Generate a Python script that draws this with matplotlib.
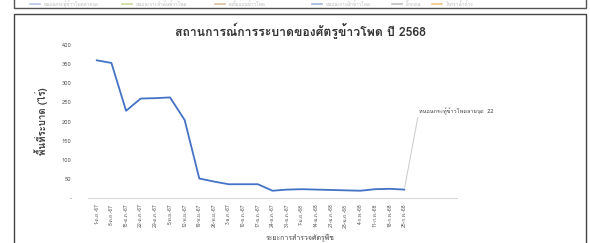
import numpy as np
import matplotlib
matplotlib.use("Agg")
import matplotlib.pyplot as plt
from matplotlib import font_manager as fm
from matplotlib.ft2font import FT2Font
from matplotlib.patches import Rectangle
from matplotlib.lines import Line2D

# find an installed font that has Thai glyphs
thai_font = None
for f in fm.fontManager.ttflist:
    try:
        if 0x0E01 in FT2Font(f.fname).get_charmap():
            thai_font = f.name
            break
    except Exception:
        pass
families = [thai_font, "DejaVu Sans"] if thai_font else ["DejaVu Sans"]
plt.rcParams["font.family"] = families

# data
dates = ["1-ต.ค.-67", "8-ต.ค.-67", "15-ต.ค.-67", "22-ต.ค.-67", "29-ต.ค.-67",
         "5-พ.ย.-67", "12-พ.ย.-67", "19-พ.ย.-67", "26-พ.ย.-67", "3-ธ.ค.-67",
         "10-ธ.ค.-67", "17-ธ.ค.-67", "24-ธ.ค.-67", "31-ธ.ค.-67", "7-ม.ค.-68",
         "14-ม.ค.-68", "21-ม.ค.-68", "28-ม.ค.-68", "4-ก.พ.-68", "11-ก.พ.-68",
         "18-ก.พ.-68", "25-ก.พ.-68"]
area = [360, 353, 228, 260, 261, 263, 204, 51, 43, 36, 36, 36, 19,
        22, 23, 22, 21, 20, 19, 23, 24, 22]
series_name = "หนอนกระทู้ข้าวโพดลายจุด"
yticks = [0, 50, 100, 150, 200, 250, 300, 350, 400]

legend_names = ["หนอนกระทู้ข้าวโพดลายจุด", "หนอนเจาะลำต้นข้าวโพด", "เพลี้ยอ่อนข้าวโพด",
                "หนอนเจาะฝักข้าวโพด", "ตั๊กแตน", "โรคราน้ำค้าง"]
legend_colors = ["#b7c6e6", "#c9d99a", "#d9c0a0", "#9fb6e0", "#c0c0c0", "#f3c48a"]

W, H = 590, 243
fig = plt.figure(figsize=(W / 100, H / 100), dpi=100)

# frames (previous chart cut at top, this chart box)
fig.patches.append(Rectangle((14 / W, 1 - 8 / H), 572 / W, 20 / H, transform=fig.transFigure,
                             fill=False, edgecolor="#555555", linewidth=1.0))
fig.patches.append(Rectangle((14 / W, -0.05), 572 / W, 1 - 14 / H + 0.05, transform=fig.transFigure,
                             fill=False, edgecolor="#444444", linewidth=1.0))

lx = [30, 122, 215, 312, 392, 432]
for x, name, c in zip(lx, legend_names, legend_colors):
    fig.add_artist(Line2D([x / W, (x + 10) / W], [1 - 4 / H, 1 - 4 / H], color=c, linewidth=1.2,
                          transform=fig.transFigure))
    fig.text((x + 14) / W, 1 - 4 / H, name, fontsize=3.4, color="#bbbbbb", va="center", ha="left")

ax = fig.add_axes([88 / W, 1 - 198 / H, (457 - 88) / W, (198 - 45) / H])
x = np.arange(len(area))
ax.plot(x, area, color="#4472C4", linewidth=1.3)

ax.set_xlim(-0.6, 24.6)
ax.set_ylim(0, 400)
ax.set_yticks(yticks)
ax.set_yticklabels(["-"] + [str(v) for v in yticks[1:]], fontsize=4.2, color="#595959")
ax.set_xticks(x)
ax.set_xticklabels(dates, rotation=90, fontsize=3.6, color="#595959")
ax.tick_params(axis="y", length=0, pad=12)
ax.tick_params(axis="x", length=0, pad=4)
for s in ["top", "right", "left"]:
    ax.spines[s].set_visible(False)
ax.spines["bottom"].set_color("#d9d9d9")
ax.spines["bottom"].set_linewidth(0.8)

fig.text(300 / W, 1 - 31 / H, "สถานการณ์การระบาดของศัตรูข้าวโพด ปี 2568", fontsize=8.8,
         color="#333333", fontweight="bold", ha="center", va="center")
ax.set_ylabel("พื้นที่ระบาด (ไร่)", fontsize=7, color="#404040", fontweight="bold", labelpad=10)
fig.text(300 / W, 1 - 237 / H, "ระยะการสำรวจศัตรูพืช", fontsize=5, color="#404040",
         ha="center", va="center")

# data label with leader line on last point
ax.annotate(series_name + "  " + str(area[-1]), xy=(x[-1], area[-1]), xytext=(419 / W, 1 - 111 / H),
            textcoords="figure fraction", fontsize=4, color="#404040", va="center", ha="left",
            arrowprops=dict(arrowstyle="-", color="#d0d0d0", linewidth=0.8,
                            shrinkA=0, shrinkB=2, relpos=(0, 0.5)))

fig.savefig("out.png", dpi=100)
